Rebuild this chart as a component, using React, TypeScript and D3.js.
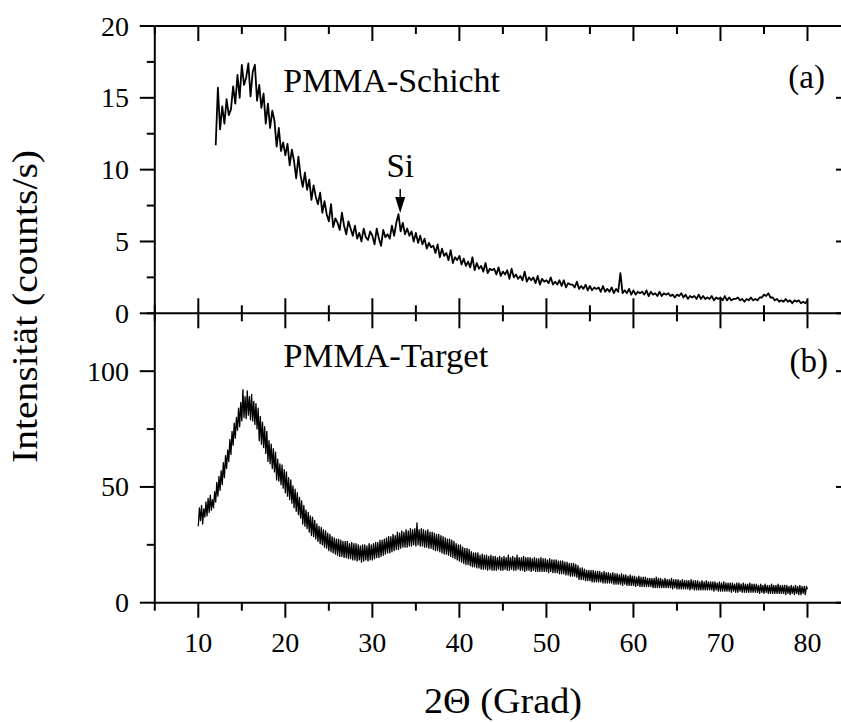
import React from "react";
import * as d3 from "d3";

// ---- data ----
const X_MAJOR = [10, 20, 30, 40, 50, 60, 70, 80];
const X_MINOR = [5, 15, 25, 35, 45, 55, 65, 75, 85];
const TOP_Y_MAJOR = [0, 5, 10, 15, 20];
const TOP_Y_MINOR = [2.5, 7.5, 12.5, 17.5];
const BOT_Y_MAJOR = [0, 50, 100];
const BOT_Y_MINOR = [25, 75, 125];

const TOP_START = 12;
const TOP_STEP = 0.25;
const BOT_START = 10;
const BOT_STEP = 0.125;

// PMMA-Schicht (a), 12°..80° in 0.25° steps
const topValues = [
  11.7, 15.7, 12.8, 14.4,
  13.2, 14.9, 13.8, 14.2,
  15.8, 14.6, 16.6, 15.0,
  17.3, 15.9, 16.4, 17.4,
  15.1, 16.8, 17.3, 14.8,
  15.9, 14.3, 15.3, 13.2,
  14.6, 12.9, 14.1, 13.4,
  11.6, 12.9, 11.3, 11.9,
  11.0, 11.8, 10.3, 11.4,
  10.6, 9.4, 10.9, 9.6,
  8.8, 9.8, 8.6, 9.3,
  7.9, 8.9, 8.1, 7.6,
  8.4, 7.0, 7.8, 6.9,
  6.4, 7.6, 6.0, 6.6,
  6.3, 5.8, 7.0, 6.1,
  5.5, 6.4, 5.9, 5.4,
  6.1, 5.2, 5.6, 5.0,
  5.9, 5.3, 5.1, 5.7,
  5.4, 4.8, 5.9, 5.2,
  4.7, 5.8, 5.3, 5.5,
  5.2, 6.1, 5.4, 6.3,
  6.9, 5.7, 6.3, 5.5,
  5.9, 5.4, 5.7, 5.0,
  5.6, 4.9, 5.4, 4.8,
  5.2, 4.5, 4.9, 4.6,
  4.7, 4.2, 4.8, 3.9,
  4.5, 4.0, 4.2, 3.7,
  4.4, 3.5, 3.9, 3.7,
  4.0, 3.4, 3.8, 3.3,
  3.6, 3.2, 3.9, 3.0,
  3.5, 3.1, 3.3, 2.9,
  3.5, 2.8, 3.1, 3.0,
  3.1, 2.7, 3.2, 2.6,
  2.9, 2.7, 3.0, 2.4,
  3.1, 2.5, 2.7, 2.4,
  2.6, 2.3, 2.9, 2.2,
  2.5, 2.3, 2.5, 2.1,
  2.6, 2.0, 2.4, 2.2,
  2.3, 2.1, 2.5, 2.0,
  2.2, 2.0, 2.3, 1.9,
  2.3, 1.8, 2.1, 2.0,
  2.0, 1.8, 2.2, 1.7,
  1.9, 1.7, 2.0, 1.6,
  1.9, 1.6, 1.8, 1.7,
  1.8, 1.5, 1.9, 1.5,
  1.7, 1.5, 1.8, 1.4,
  1.7, 1.5, 2.8, 1.4,
  1.6, 1.4, 1.7, 1.3,
  1.6, 1.3, 1.5, 1.4,
  1.5, 1.3, 1.6, 1.2,
  1.5, 1.3, 1.4, 1.2,
  1.5, 1.2, 1.4, 1.3,
  1.4, 1.2, 1.3, 1.1,
  1.3, 1.2, 1.4, 1.1,
  1.3, 1.0, 1.2, 1.1,
  1.2, 1.0, 1.3, 1.0,
  1.2, 1.0, 1.1, 1.0,
  1.2, 0.9, 1.1, 1.0,
  1.1, 0.9, 1.2, 0.9,
  1.1, 0.9, 1.0, 1.0,
  1.1, 0.9, 1.0, 0.8,
  1.0, 0.9, 1.1, 0.9,
  1.0, 0.9, 1.1, 1.1,
  1.3, 1.2, 1.4, 1.1,
  1.1, 0.9, 1.0, 0.8,
  0.9, 0.8, 1.0, 0.8,
  0.9, 0.7, 0.9, 0.8,
  0.9, 0.7, 0.8, 0.7,
  0.9,
];

// PMMA-Target (b), 10°..80° in 0.125° steps
const bottomValues = [
  33, 41, 35.5, 42, 34, 40.5, 37, 43.5,
  37.5, 45, 39, 46.5, 40, 44.5, 41, 48,
  43.5, 52, 46, 54.5, 48.5, 57, 51, 60.5,
  54, 63.5, 58, 66, 61, 70.5, 64, 74,
  68, 77.5, 71, 80, 74.5, 84, 76, 86.5,
  78.5, 92, 80, 89, 79.5, 91.5, 81, 89,
  79, 90, 78.5, 87, 77, 86, 75, 84,
  70, 80.5, 68.5, 78, 67, 76, 64.5, 74,
  61, 70, 60, 68.5, 58, 66.5, 56.5, 65,
  53, 62, 52.5, 60, 51, 59.5, 49.5, 57.5,
  47.5, 56.5, 46, 54, 44.5, 53, 43, 50.5,
  41, 49, 39.5, 47.5, 38, 45.5, 36.5, 44,
  34, 42, 33, 40, 32, 39, 30.5, 37.5,
  29, 37, 28.5, 35.5, 27.5, 34, 26.5, 33,
  25.5, 32.5, 25, 31.5, 24, 31, 23.5, 30,
  22.5, 29.5, 22, 28.5, 21.5, 28, 21, 27.5,
  20.5, 27.5, 20, 27, 20, 26.5, 19.5, 26.5,
  19.5, 26.5, 19, 25.5, 19, 26, 18.5, 25.5,
  18.5, 25.5, 18, 25, 18.5, 24.5, 17.5, 25,
  18, 25, 18.5, 24.5, 18, 25.5, 18.5, 25,
  18.5, 25.5, 19, 26, 19.5, 26, 19.5, 27,
  20, 27, 20.5, 27.5, 21, 28, 21.5, 28.5,
  21.5, 28.5, 22, 29.5, 22.5, 29, 23, 30.5,
  23, 30, 23.5, 31, 24, 30.5, 24, 31.5,
  24, 31, 24.5, 32, 24.5, 31.5, 25, 32,
  24.5, 34.5, 25, 31.5, 24.5, 32, 24.5, 31.5,
  24, 31, 24, 31.5, 23.5, 30.5, 23.5, 30.5,
  23, 30, 22.5, 29.5, 22.5, 29.5, 22, 29,
  21.5, 28.5, 21, 28, 21, 27.5, 20.5, 27.5,
  20, 27, 19.5, 26.5, 19, 25.5, 18.5, 25,
  18, 25, 17.5, 24, 17, 23.5, 16.5, 23.5,
  16.5, 23, 16, 22, 15.5, 21.5, 15.5, 21.5,
  15, 21.5, 15, 20.5, 14.5, 21, 14.5, 20.5,
  14.5, 20.5, 14, 20, 14.5, 20.5, 14, 20,
  14, 20, 14, 19.5, 14.5, 20, 14, 19.5,
  14, 20, 14.5, 19.5, 14, 20.5, 14, 19.5,
  14.5, 20, 14, 19.5, 14, 20.5, 14.5, 19.5,
  14, 19.5, 14, 20, 13.5, 19.5, 14, 19.5,
  14, 19.5, 13.5, 19, 14, 19.5, 13.5, 19,
  13.5, 19, 13.5, 19.5, 13.5, 19, 13.5, 19,
  13.5, 18.5, 13, 19, 13.5, 18.5, 13, 18.5,
  13, 18.5, 13, 18, 12.5, 18, 12.5, 18,
  12.5, 17.5, 12, 17.5, 12, 17, 11.5, 17,
  11.5, 17, 11.5, 16.5, 11, 16, 10, 15,
  10, 15, 10, 14.5, 9.5, 14, 9.5, 14,
  9.5, 14, 9, 14, 9, 13.5, 9, 13.5,
  9, 13.5, 9, 13, 8.5, 13.5, 8.5, 13,
  8.5, 13, 8.5, 12.5, 8.5, 13, 8, 12.5,
  8, 12.5, 8, 12, 8, 12.5, 7.5, 12,
  8, 12, 7.5, 11.5, 7.5, 12, 7.5, 11.5,
  7.5, 11.5, 7, 11, 7.5, 11.5, 7, 11,
  7, 11, 7, 11, 7, 10.5, 7, 10.5,
  7, 10.5, 6.5, 10.5, 6.5, 11, 6.5, 10.5,
  6.5, 10.5, 6.5, 10, 6.5, 10.5, 6.5, 10,
  6.5, 10, 6.5, 10.5, 6, 10, 6.5, 10,
  6, 10, 6, 9.5, 6, 10, 6, 9.5,
  6, 9.5, 6, 9.5, 5.5, 10, 6, 9.5,
  5.5, 9.5, 5.5, 9.5, 5.5, 9, 5.5, 9.5,
  5.5, 9, 5.5, 9.5, 5.5, 9, 5.5, 9,
  5.5, 9, 5, 9, 5.5, 8.5, 5, 9,
  5, 8.5, 5, 9, 5, 8.5, 5, 8.5,
  5, 8.5, 4.5, 8.5, 5, 8, 4.5, 8.5,
  4.5, 8.5, 5, 8, 4.5, 8.5, 4.5, 8,
  4.5, 8, 4.5, 8.5, 4.5, 8, 4.5, 8,
  4.5, 8, 4.5, 7.5, 4, 8, 4.5, 7.5,
  4, 8, 4.5, 7.5, 4, 7.5, 4, 8,
  4, 7.5, 4, 7.5, 4, 8, 4, 7.5,
  4, 7.5, 4, 7.5, 3.5, 7.5, 4, 7,
  3.5, 7.5, 4, 7, 3.5, 7.5, 4, 7,
  3.5, 7.5, 3.5, 7, 4, 7, 3.5, 7,
  5.8,
];

const SI_POS = 33.2;

// ---- layout ----
const W = 841;
const H = 722;
const LEFT = 154.8;
const RIGHT = 851;
const TOP = 26;
const MID = 313.3;
const BOTTOM = 602.7;
const FONT = '"Liberation Serif", "Times New Roman", Times, serif';

export default function App() {
  const x = d3.scaleLinear().domain([5, 85]).range([LEFT, RIGHT]);
  const yTop = d3.scaleLinear().domain([0, 20]).range([MID, TOP]);
  const yBot = d3.scaleLinear().domain([0, 125]).range([BOTTOM, MID]);

  const topData = topValues.map((v, i) => [TOP_START + i * TOP_STEP, v] as [number, number]);
  const botData = bottomValues.map((v, i) => [BOT_START + i * BOT_STEP, v] as [number, number]);

  const lineTop = d3.line<[number, number]>().x((d) => x(d[0])).y((d) => yTop(d[1]));
  const lineBot = d3.line<[number, number]>().x((d) => x(d[0])).y((d) => yBot(d[1]));

  const MAJ = 15;
  const MIN = 8;
  const sw = 2;
  const siX = x(SI_POS);

  return (
    <svg
      width={W}
      height={H}
      style={{ position: "absolute", left: 0, top: 0, background: "#fff", fontFamily: FONT }}
    >
      <rect x={0} y={0} width={W} height={H} fill="#fff" />
      {/* frames */}
      <g stroke="#000" strokeWidth={sw} fill="none">
        <line x1={LEFT} y1={TOP} x2={RIGHT} y2={TOP} />
        <line x1={LEFT} y1={MID} x2={RIGHT} y2={MID} />
        <line x1={LEFT} y1={BOTTOM} x2={RIGHT} y2={BOTTOM} />
        <line x1={LEFT} y1={TOP} x2={LEFT} y2={BOTTOM} />
        <line x1={RIGHT} y1={TOP} x2={RIGHT} y2={BOTTOM} />

        {X_MAJOR.map((t) => (
          <g key={"xM" + t}>
            <line x1={x(t)} y1={TOP} x2={x(t)} y2={TOP + MAJ} />
            <line x1={x(t)} y1={MID - MAJ} x2={x(t)} y2={MID + MAJ} />
            <line x1={x(t)} y1={BOTTOM} x2={x(t)} y2={BOTTOM + MAJ} />
          </g>
        ))}
        {X_MINOR.map((t) => (
          <g key={"xm" + t}>
            <line x1={x(t)} y1={TOP} x2={x(t)} y2={TOP + MIN} />
            <line x1={x(t)} y1={MID - MIN} x2={x(t)} y2={MID + MIN} />
            <line x1={x(t)} y1={BOTTOM} x2={x(t)} y2={BOTTOM + MIN} />
          </g>
        ))}

        {TOP_Y_MAJOR.map((t) => (
          <g key={"tyM" + t}>
            <line x1={LEFT - MAJ} y1={yTop(t)} x2={LEFT} y2={yTop(t)} />
            <line x1={RIGHT - MAJ} y1={yTop(t)} x2={RIGHT} y2={yTop(t)} />
          </g>
        ))}
        {TOP_Y_MINOR.map((t) => (
          <g key={"tym" + t}>
            <line x1={LEFT - MIN} y1={yTop(t)} x2={LEFT} y2={yTop(t)} />
            <line x1={RIGHT - MIN} y1={yTop(t)} x2={RIGHT} y2={yTop(t)} />
          </g>
        ))}
        {BOT_Y_MAJOR.map((t) => (
          <g key={"byM" + t}>
            <line x1={LEFT - MAJ} y1={yBot(t)} x2={LEFT} y2={yBot(t)} />
            <line x1={RIGHT - MAJ} y1={yBot(t)} x2={RIGHT} y2={yBot(t)} />
          </g>
        ))}
        {BOT_Y_MINOR.map((t) => (
          <g key={"bym" + t}>
            <line x1={LEFT - MIN} y1={yBot(t)} x2={LEFT} y2={yBot(t)} />
            <line x1={RIGHT - MIN} y1={yBot(t)} x2={RIGHT} y2={yBot(t)} />
          </g>
        ))}
      </g>

      {/* data */}
      <path d={lineTop(topData) || ""} fill="none" stroke="#000" strokeWidth={1.8} strokeLinejoin="round" />
      <path d={lineBot(botData) || ""} fill="none" stroke="#000" strokeWidth={1.3} strokeLinejoin="round" />

      {/* Si arrow */}
      <line x1={siX} y1={189} x2={siX} y2={200} stroke="#000" strokeWidth={1.5} />
      <polygon points={`${siX - 5},197 ${siX + 5},197 ${siX},213`} fill="#000" />

      {/* tick labels */}
      <g fontSize={28} fill="#000" style={{ fontFamily: FONT }}>
        {TOP_Y_MAJOR.map((t) => (
          <text key={"tl" + t} x={129} y={yTop(t)} textAnchor="end" dominantBaseline="central">
            {t}
          </text>
        ))}
        {BOT_Y_MAJOR.map((t) => (
          <text key={"bl" + t} x={129} y={yBot(t)} textAnchor="end" dominantBaseline="central">
            {t}
          </text>
        ))}
        {X_MAJOR.map((t) => (
          <text key={"xl" + t} x={x(t)} y={652} textAnchor="middle">
            {t}
          </text>
        ))}
      </g>

      {/* annotations */}
      <g fontSize={33} fill="#000" style={{ fontFamily: FONT }}>
        <text x={283.3} y={91.5} textLength={216.7} lengthAdjust="spacingAndGlyphs">PMMA-Schicht</text>
        <text x={283.3} y={366.5} textLength={205} lengthAdjust="spacingAndGlyphs">PMMA-Target</text>
        <text x={siX} y={176.5} textAnchor="middle">Si</text>
        <text x={825} y={88} textAnchor="end">(a)</text>
        <text x={828} y={371.5} textAnchor="end">(b)</text>
      </g>

      {/* axis titles */}
      <g fontSize={36} fill="#000" style={{ fontFamily: FONT }}>
        <text x={424} y={713} textLength={158} lengthAdjust="spacingAndGlyphs">2Θ (Grad)</text>
        <text
          transform={`translate(37,${(150 + 463) / 2}) rotate(-90)`}
          textAnchor="middle"
          textLength={313}
          lengthAdjust="spacingAndGlyphs"
        >
          Intensität (counts/s)
        </text>
      </g>
    </svg>
  );
}
